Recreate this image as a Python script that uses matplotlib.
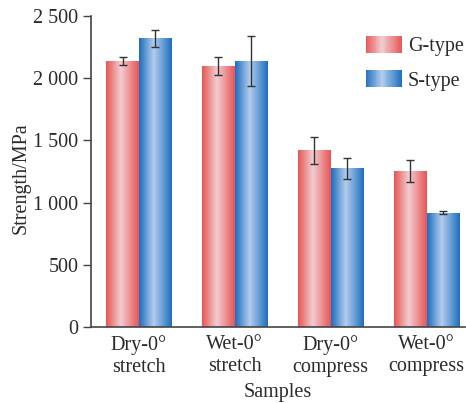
import matplotlib
matplotlib.use("Agg")
import matplotlib.pyplot as plt
import numpy as np
from matplotlib.colors import LinearSegmentedColormap
from matplotlib.legend_handler import HandlerBase
from matplotlib.patches import Patch, Rectangle

plt.rcParams["font.family"] = ["Liberation Serif", "DejaVu Serif"]
plt.rcParams["font.size"] = 14.5

samples = ["Dry-0°\nstretch", "Wet-0°\nstretch", "Dry-0°\ncompress", "Wet-0°\ncompress"]
g_type = [2140, 2100, 1420, 1255]
g_err = [35, 75, 110, 88]
s_type = [2320, 2140, 1275, 917]
s_err = [70, 200, 85, 12]
series_names = ["G-type", "S-type"]
yticks = [0, 500, 1000, 1500, 2000, 2500]
ytick_labels = ["0", "500", "1 000", "1 500", "2 000", "2 500"]

RED = LinearSegmentedColormap.from_list(
    "red", [(0, "#e85656"), (0.45, "#f1cdd1"), (1, "#e85656")])
BLUE = LinearSegmentedColormap.from_list(
    "blue", [(0, "#1f6fbf"), (0.45, "#b3cdec"), (1, "#1f6fbf")])
GRAD = np.linspace(0, 1, 64).reshape(1, -1)


def gradient_bars(ax, bars, cmap):
    for bar in bars:
        x0, y0 = bar.get_x(), bar.get_y()
        w, h = bar.get_width(), bar.get_height()
        bar.set_facecolor("none")
        bar.set_edgecolor("none")
        im = ax.imshow(GRAD, cmap=cmap, aspect="auto", interpolation="bilinear",
                       extent=(x0, x0 + w, y0, y0 + h), zorder=2)
        im.set_clip_path(bar)


class GradientHandler(HandlerBase):
    def __init__(self, cmap):
        super().__init__()
        self.cmap = cmap

    def create_artists(self, legend, orig_handle, xdescent, ydescent,
                       width, height, fontsize, trans):
        n = 40
        strips = []
        for i in range(n):
            r = Rectangle((-xdescent + width * i / n, -ydescent), width / n + 0.3,
                          height, facecolor=self.cmap((i + 0.5) / n),
                          edgecolor="none", transform=trans)
            strips.append(r)
        return strips


fig = plt.figure(figsize=(4.66, 4.03), dpi=100)
ax = fig.add_axes([0.195, 0.189, 0.803, 0.771])

x = np.arange(len(samples))
width = 0.34
ecolor = "#333333"
bars_g = ax.bar(x - width / 2, g_type, width, yerr=g_err, capsize=3,
                error_kw=dict(ecolor=ecolor, elinewidth=1, capthick=1, zorder=3))
bars_s = ax.bar(x + width / 2, s_type, width, yerr=s_err, capsize=3,
                error_kw=dict(ecolor=ecolor, elinewidth=1, capthick=1, zorder=3))
gradient_bars(ax, bars_g, RED)
gradient_bars(ax, bars_s, BLUE)

ax.set_xlim(-0.5, 3.4)
ax.set_ylim(0, 2500)
ax.set_xticks(x)
ax.set_xticklabels(samples, color="#2a2a2a")
ax.set_yticks(yticks)
ax.set_yticklabels(ytick_labels, color="#2a2a2a")
ax.tick_params(axis="x", length=0, pad=6)
ax.tick_params(axis="y", length=6, width=1, color="#444444", pad=3)
for side in ["top", "right"]:
    ax.spines[side].set_visible(False)
for side in ["left", "bottom"]:
    ax.spines[side].set_color("#444444")
    ax.spines[side].set_linewidth(1.2)

ax.set_xlabel("Samples", color="#2a2a2a", labelpad=4.5)
ax.set_ylabel("Strength/MPa", color="#2a2a2a")
ax.yaxis.set_label_coords(-0.16, 0.48)

h1 = Patch(label=series_names[0])
h2 = Patch(label=series_names[1])
ax.legend([h1, h2], series_names, frameon=False,
          handler_map={h1: GradientHandler(RED), h2: GradientHandler(BLUE)},
          loc="upper right", bbox_to_anchor=(1.045, 0.995),
          handlelength=1.8, handleheight=0.9, handletextpad=0.3,
          labelspacing=0.7, labelcolor="#2a2a2a")

fig.savefig("out.png", dpi=100)
